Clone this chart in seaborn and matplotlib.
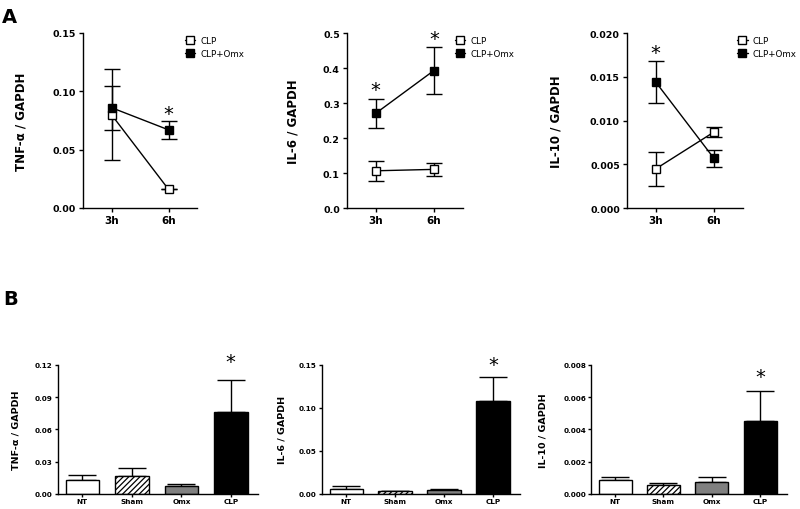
import numpy as np
import pandas as pd
import matplotlib
matplotlib.use("Agg")
import matplotlib.pyplot as plt
from matplotlib.ticker import StrMethodFormatter
import seaborn as sns

# ---- data ----
times = ["3h", "6h"]
series = ["CLP", "CLP+Omx"]

tnf_clp = [0.080, 0.016]
tnf_clp_err = [0.039, 0.0]
tnf_omx = [0.086, 0.067]
tnf_omx_err = [0.019, 0.008]

il6_clp = [0.107, 0.111]
il6_clp_err = [0.029, 0.018]
il6_omx = [0.271, 0.393]
il6_omx_err = [0.041, 0.067]

il10_clp = [0.0045, 0.0087]
il10_clp_err = [0.0019, 0.0006]
il10_omx = [0.0144, 0.0057]
il10_omx_err = [0.0024, 0.0010]

groups = ["NT", "Sham", "Omx", "CLP"]
bar_tnf = [0.0133, 0.0166, 0.0072, 0.076]
bar_tnf_err = [0.0044, 0.0078, 0.0018, 0.030]
bar_il6 = [0.0055, 0.0030, 0.0050, 0.1075]
bar_il6_err = [0.0035, 0.0008, 0.0007, 0.0285]
bar_il10 = [0.00085, 0.00058, 0.00075, 0.0045]
bar_il10_err = [0.00021, 0.00013, 0.00028, 0.00185]
bar_colors = ["white", "white", "#808080", "black"]

sns.set_style("ticks")
plt.rcParams["font.family"] = ["DejaVu Sans"]
plt.rcParams["font.weight"] = "bold"
plt.rcParams["axes.labelweight"] = "bold"
plt.rcParams["text.color"] = "black"
plt.rcParams["axes.labelcolor"] = "black"
plt.rcParams["xtick.color"] = "black"
plt.rcParams["ytick.color"] = "black"
plt.rcParams["hatch.linewidth"] = 0.9
plt.rcParams["axes.linewidth"] = 1.0

W, H = 800, 510
fig = plt.figure(figsize=(8, 5.1), dpi=100)


def rect(l, t, r, b):
    return [l / W, 1 - b / H, (r - l) / W, (b - t) / H]


def style_axis(ax, tick_len, pad):
    sns.despine(ax=ax)
    ax.tick_params(axis="both", direction="out", length=tick_len, width=1.0,
                   colors="black", pad=pad)
    for s in ("left", "bottom"):
        ax.spines[s].set_color("black")


# -------------------------------
# Panel A: time course
# -------------------------------
def line_panel(box, clp, clp_err, omx, omx_err, ylim, step, fmt, ylabel,
               lab_x, stars, leg_x):
    ax = fig.add_axes(rect(*box))
    pos = list(range(len(times)))
    for name, vals, errs, face in [("CLP", clp, clp_err, "white"),
                                   ("CLP+Omx", omx, omx_err, "black")]:
        df = pd.DataFrame({"pos": pos, "val": vals})
        ax.errorbar(pos, vals, yerr=errs, fmt="none", ecolor="black",
                    elinewidth=1.0, capsize=6, capthick=1.0, zorder=2)
        sns.lineplot(data=df, x="pos", y="val", ax=ax, color="black",
                     linewidth=1.0, marker="s", markersize=5.5,
                     markerfacecolor=face, markeredgecolor="black",
                     markeredgewidth=1.0, label=name, zorder=3)
    for xs, ys in stars:
        ax.text(xs, ys, "*", ha="center", va="center", fontsize=14,
                fontweight="normal")
    ax.set_xlim(-0.5, 1.5)
    ax.set_ylim(*ylim)
    ax.set_yticks(np.arange(ylim[0], ylim[1] + step / 2, step))
    ax.yaxis.set_major_formatter(StrMethodFormatter(fmt))
    ax.set_xticks(pos)
    ax.set_xticklabels(times)
    ax.set_xlabel("")
    ax.set_ylabel(ylabel, fontsize=8.5, fontweight="bold")
    ax.yaxis.set_label_coords(lab_x, 0.5)
    style_axis(ax, 3, 2)
    ax.tick_params(axis="y", labelsize=6.8)
    ax.tick_params(axis="x", labelsize=7.5)
    ax.legend(loc="upper left", bbox_to_anchor=(leg_x, 1.0),
              frameon=False, handlelength=1.2, handletextpad=0.6,
              labelspacing=0.35, borderaxespad=0,
              prop={"size": 6.3, "weight": "normal"})
    return ax


line_panel((83, 34, 197, 209), tnf_clp, tnf_clp_err, tnf_omx, tnf_omx_err,
           (0, 0.15), 0.05, "{x:.2f}", "TNF-α / GAPDH", -0.49,
           [(1, 0.081)], 0.86)
line_panel((346.7, 34, 463, 209.3), il6_clp, il6_clp_err, il6_omx, il6_omx_err,
           (0, 0.5), 0.1, "{x:.1f}", "IL-6 / GAPDH", -0.41,
           [(0, 0.34), (1, 0.483)], 0.90)
line_panel((626.7, 34, 743, 209.3), il10_clp, il10_clp_err, il10_omx,
           il10_omx_err, (0, 0.020), 0.005, "{x:.3f}", "IL-10 / GAPDH", -0.55,
           [(0, 0.0178)], 0.92)


# -------------------------------
# Panel B: bars
# -------------------------------
def bar_panel(box, vals, errs, ymax, step, fmt, ylabel, lab_x, star_y):
    ax = fig.add_axes(rect(*box))
    df = pd.DataFrame({"group": groups, "val": vals})
    sns.barplot(data=df, x="group", y="val", hue="group", palette=bar_colors,
                edgecolor="black", linewidth=1.0, width=0.68, legend=False,
                ax=ax, zorder=2)
    ax.patches[1].set_hatch("//////")
    ax.errorbar(range(len(groups)), vals, yerr=[np.zeros(len(errs)), errs],
                fmt="none", ecolor="black", elinewidth=1.0, capsize=10,
                capthick=1.0, zorder=1)
    ax.text(3, star_y, "*", ha="center", va="center", fontsize=14,
            fontweight="normal", clip_on=False)
    ax.set_xlim(-0.5, 3.55)
    ax.set_ylim(0, ymax)
    ax.set_yticks(np.arange(0, ymax + step / 2, step))
    ax.yaxis.set_major_formatter(StrMethodFormatter(fmt))
    ax.set_xlabel("")
    ax.set_ylabel(ylabel, fontsize=6.8, fontweight="bold")
    ax.yaxis.set_label_coords(lab_x, 0.5)
    style_axis(ax, 2, 1.5)
    ax.tick_params(axis="y", labelsize=5.2)
    ax.tick_params(axis="x", labelsize=5.2, pad=1.2)
    return ax


bar_panel((57.7, 365.7, 258, 495), bar_tnf, bar_tnf_err, 0.12, 0.03,
          "{x:.2f}", "TNF-α / GAPDH", -0.185, 0.123)
bar_panel((321.7, 365.7, 520, 495), bar_il6, bar_il6_err, 0.15, 0.05,
          "{x:.2f}", "IL-6 / GAPDH", -0.176, 0.150)
bar_panel((591, 365.7, 786.7, 495), bar_il10, bar_il10_err, 0.008, 0.002,
          "{x:.3f}", "IL-10 / GAPDH", -0.22, 0.0073)

fig.text(2 / W, 1 - 8 / H, "A", fontsize=14, fontweight="bold", va="top")
fig.text(3 / W, 1 - 290 / H, "B", fontsize=14, fontweight="bold", va="top")

fig.savefig("out.png", dpi=100)
